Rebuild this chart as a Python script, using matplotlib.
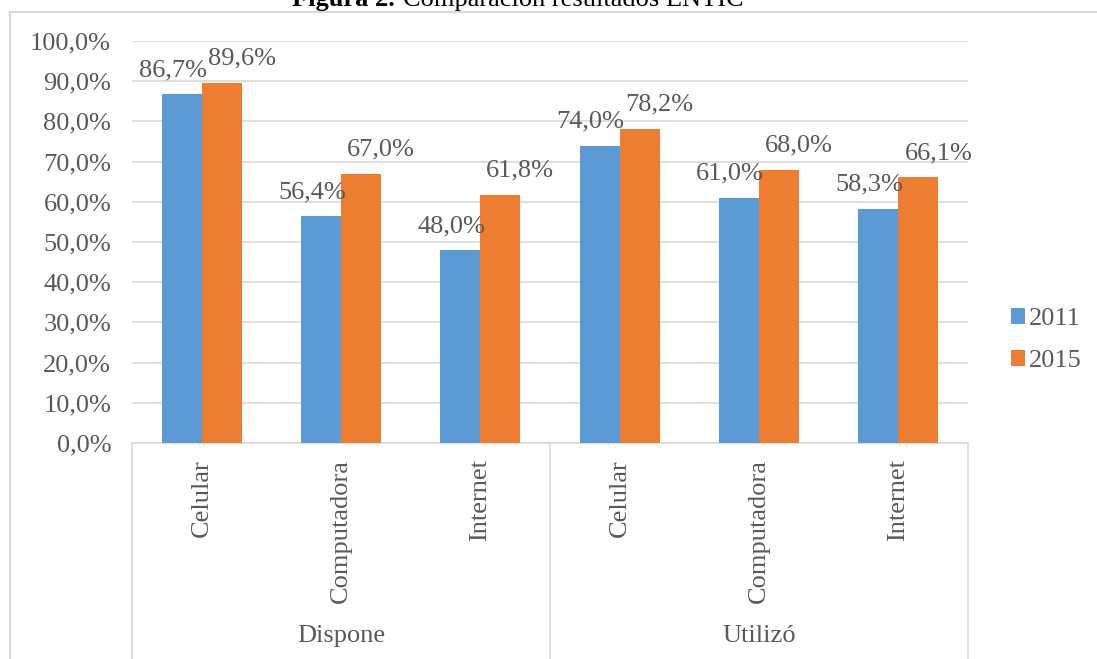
import numpy as np
import matplotlib
matplotlib.use('Agg')
from matplotlib import pyplot as plt
from matplotlib.patches import Rectangle, Patch
from matplotlib.lines import Line2D

groups = ['Dispone', 'Utilizó']
items = ['Celular', 'Computadora', 'Internet']
years = ['2011', '2015']
vals_2011 = [86.7, 56.4, 48.0, 74.0, 61.0, 58.3]
vals_2015 = [89.6, 67.0, 61.8, 78.2, 68.0, 66.1]
yticks = [0, 10, 20, 30, 40, 50, 60, 70, 80, 90, 100]

blue = '#5B9BD5'
orange = '#ED7D31'
txt = '#595959'
grid = '#D9D9D9'

plt.rcParams['font.family'] = ['Liberation Serif', 'DejaVu Serif']

W, H = 1097, 659
fig = plt.figure(figsize=(W / 100, H / 100), dpi=100)

# chart frame (cut off at right and bottom in the original)
fig.patches.append(Rectangle((10 / W, -0.1), 1.2, 1 - 12 / H + 0.1, transform=fig.transFigure,
                             fill=False, edgecolor=grid, linewidth=1.5))

# title, mostly cropped off the top like in the source
fig.text(395 / W, 1 - 6 / H, 'Figura 2.', ha='right', va='baseline', fontsize=19,
         fontweight='bold', color='black')
fig.text(403 / W, 1 - 6 / H, 'Comparación resultados ENTIC', ha='left', va='baseline',
         fontsize=19, color='black')

ax = fig.add_axes([132 / W, 1 - 443 / H, (968 - 132) / W, (443 - 41) / H])
n = len(vals_2011)
x = np.arange(n)
bw = 0.287
ax.bar(x - bw / 2, vals_2011, bw, color=blue, zorder=3)
ax.bar(x + bw / 2, vals_2015, bw, color=orange, zorder=3)

ax.set_xlim(-0.5, n - 0.5)
ax.set_ylim(0, 100)
ax.set_yticks(yticks)
ax.set_yticklabels([f'{t:.1f}%'.replace('.', ',') for t in yticks], fontsize=19, color=txt)
ax.tick_params(axis='y', length=0, pad=15)
ax.set_xticks([])
ax.yaxis.grid(True, color=grid, linewidth=1.2, zorder=0)
for s in ['top', 'right', 'left']:
    ax.spines[s].set_visible(False)
ax.spines['bottom'].set_color(grid)
ax.spines['bottom'].set_linewidth(1.2)

for xi, v in zip(x, vals_2011):
    ax.annotate(f'{v:.1f}%'.replace('.', ','), (xi - bw / 2, v), xytext=(-9, 13),
                textcoords='offset pixels', ha='center', va='bottom', fontsize=19, color=txt)
for xi, v in zip(x, vals_2015):
    ax.annotate(f'{v:.1f}%'.replace('.', ','), (xi + bw / 2, v), xytext=(20, 13),
                textcoords='offset pixels', ha='center', va='bottom', fontsize=19, color=txt)

# multi level category axis
tr = ax.get_xaxis_transform()
for i in range(n):
    ax.text(x[i], -16 / (443 - 41), items[i % 3], transform=tr, rotation=90,
            ha='center', va='top', fontsize=19, color=txt, clip_on=False)
for g, name in enumerate(groups):
    ax.text(g * 3 + 1, -(636 - 443) / (443 - 41), name, transform=tr, ha='center',
            va='center', fontsize=19, color=txt, clip_on=False)
for b in [-0.5, 2.5, 5.5]:
    ax.add_line(Line2D([b, b], [0, -1], transform=tr, color=grid, linewidth=1.2,
                       clip_on=False))

handles = [Patch(facecolor=blue), Patch(facecolor=orange)]
fig.legend(handles, years, loc='center left', bbox_to_anchor=(987 / W, 1 - 340 / H),
           frameon=False, fontsize=19, handlelength=0.55, handleheight=0.55,
           handletextpad=0.15, labelspacing=0.75, labelcolor=txt)

fig.savefig('out.png', dpi=100)
